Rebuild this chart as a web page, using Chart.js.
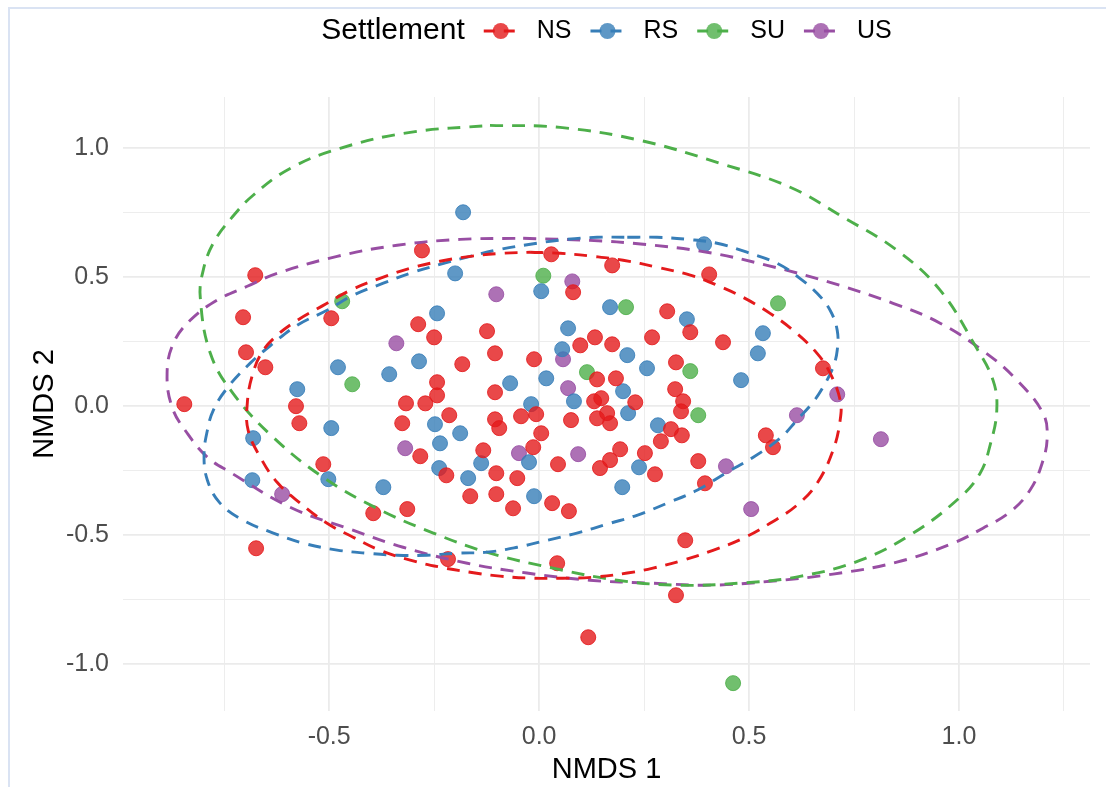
<!DOCTYPE html>
<html>
<head>
<meta charset="utf-8">
<script src="https://cdn.jsdelivr.net/npm/chart.js@4/dist/chart.umd.min.js"></script>
<style>
  html, body { margin: 0; padding: 0; background: #ffffff; }
  canvas { display: block; }
</style>
</head>
<body>
<canvas id="nmds" width="1106" height="787"></canvas>
<script>
// NMDS ordination scores per settlement type, [NMDS1, NMDS2]
const nsPoints = [
  [0.029,0.588],[-0.279,0.603],[-0.676,0.507],[-0.495,0.340],[-0.705,0.344],[-0.288,0.317],
  [-0.250,0.266],[-0.124,0.290],[-0.105,0.204],[-0.698,0.208],[-0.652,0.150],[-0.183,0.162],
  [-0.012,0.181],[-0.105,0.053],[-0.243,0.092],[-0.243,0.041],[-0.317,0.010],[-0.271,0.010],
  [-0.579,-0.001],[-0.571,-0.067],[-0.845,0.007],[-0.326,-0.067],[-0.214,-0.036],[-0.105,-0.052],
  [-0.095,-0.086],[-0.043,-0.040],[-0.007,-0.032],[0.005,-0.106],[-0.283,-0.195],[-0.133,-0.172],
  [-0.014,-0.160],[-0.514,-0.226],[-0.221,-0.269],[-0.102,-0.261],[-0.052,-0.280],[-0.395,-0.416],
  [-0.314,-0.400],[-0.674,-0.552],[-0.217,-0.594],[0.043,-0.610],[0.117,-0.897],[-0.164,-0.350],
  [-0.102,-0.342],[-0.062,-0.397],[0.031,-0.377],[0.071,-0.408],[0.045,-0.226],[0.145,-0.241],
  [0.169,-0.210],[0.193,-0.168],[0.252,-0.183],[0.076,-0.055],[0.138,-0.048],[0.162,-0.028],
  [0.169,-0.067],[0.229,0.014],[0.131,0.018],[0.148,0.030],[0.081,0.441],[0.305,0.367],
  [0.360,0.286],[0.438,0.247],[0.269,0.266],[0.098,0.235],[0.133,0.266],[0.174,0.239],
  [0.326,0.169],[0.138,0.103],[0.183,0.107],[0.324,0.065],[0.343,0.018],[0.338,-0.021],
  [0.314,-0.090],[0.340,-0.114],[0.290,-0.137],[0.379,-0.214],[0.395,-0.300],[0.276,-0.265],
  [0.174,0.545],[0.405,0.510],[0.676,0.146],[0.540,-0.114],[0.557,-0.160],[0.348,-0.521],
  [0.326,-0.734]
];
const rsPoints = [
  [-0.181,0.751],[-0.200,0.514],[0.005,0.445],[-0.243,0.359],[-0.286,0.173],[-0.479,0.150],
  [-0.357,0.123],[-0.069,0.088],[-0.576,0.065],[-0.495,-0.086],[-0.681,-0.125],[-0.248,-0.071],
  [-0.188,-0.106],[-0.019,0.007],[-0.236,-0.145],[-0.138,-0.222],[-0.024,-0.218],[-0.238,-0.241],
  [-0.683,-0.288],[-0.502,-0.284],[-0.169,-0.280],[-0.371,-0.315],[-0.012,-0.350],[0.238,-0.238],
  [0.198,-0.315],[0.212,-0.028],[0.083,0.018],[0.017,0.107],[0.169,0.383],[0.352,0.336],
  [0.069,0.301],[0.055,0.220],[0.210,0.197],[0.257,0.146],[0.200,0.057],[0.481,0.100],
  [0.283,-0.075],[0.393,0.627],[0.533,0.282],[0.521,0.204]
];
const suPoints = [
  [0.010,0.505],[-0.469,0.406],[-0.445,0.084],[0.207,0.383],[0.114,0.131],[0.360,0.135],
  [0.379,-0.036],[0.569,0.398],[0.462,-1.075]
];
const usPoints = [
  [-0.102,0.433],[-0.340,0.243],[0.079,0.483],[0.057,0.181],[0.069,0.069],[-0.319,-0.164],
  [-0.048,-0.183],[0.093,-0.187],[-0.612,-0.342],[0.445,-0.234],[0.505,-0.400],[0.614,-0.036],
  [0.710,0.045],[0.814,-0.129]
];

// Outlines of the 95% confidence ellipses, traced clockwise from the top
const nsEllipse = [
  [-0.021,0.596],[0.050,0.592],[0.129,0.580],[0.200,0.565],[0.281,0.538],[0.360,0.507],
  [0.424,0.468],[0.486,0.421],[0.550,0.359],[0.605,0.293],[0.662,0.204],[0.693,0.127],
  [0.717,0.022],[0.717,-0.055],[0.700,-0.172],[0.662,-0.300],[0.614,-0.385],[0.550,-0.455],
  [0.486,-0.513],[0.414,-0.560],[0.343,-0.598],[0.271,-0.629],[0.210,-0.648],[0.129,-0.664],
  [0.057,-0.668],[-0.014,-0.668],[-0.093,-0.660],[-0.164,-0.645],[-0.236,-0.625],[-0.307,-0.598],
  [-0.379,-0.560],[-0.443,-0.509],[-0.505,-0.455],[-0.569,-0.377],[-0.624,-0.296],[-0.664,-0.199],
  [-0.693,-0.094],[-0.695,0.010],[-0.683,0.119],[-0.660,0.208],[-0.624,0.274],[-0.576,0.332],
  [-0.514,0.390],[-0.450,0.448],[-0.379,0.495],[-0.307,0.534],[-0.236,0.561],[-0.164,0.580],
  [-0.086,0.592],[-0.021,0.596]
];
const rsEllipse = [
  [0.210,0.654],[0.281,0.654],[0.352,0.646],[0.424,0.631],[0.495,0.596],[0.567,0.553],
  [0.621,0.495],[0.662,0.437],[0.693,0.371],[0.710,0.293],[0.710,0.216],[0.700,0.150],
  [0.676,0.072],[0.652,0.014],[0.614,-0.055],[0.574,-0.125],[0.510,-0.199],[0.448,-0.257],
  [0.376,-0.327],[0.305,-0.377],[0.233,-0.424],[0.169,-0.455],[0.090,-0.493],[0.019,-0.521],
  [-0.052,-0.548],[-0.124,-0.567],[-0.195,-0.571],[-0.267,-0.579],[-0.338,-0.579],[-0.410,-0.571],
  [-0.481,-0.559],[-0.562,-0.532],[-0.633,-0.493],[-0.705,-0.443],[-0.760,-0.377],[-0.790,-0.288],
  [-0.798,-0.191],[-0.790,-0.094],[-0.776,-0.017],[-0.743,0.069],[-0.688,0.166],[-0.633,0.243],
  [-0.576,0.313],[-0.505,0.371],[-0.443,0.429],[-0.371,0.476],[-0.300,0.518],[-0.236,0.549],
  [-0.164,0.580],[-0.093,0.607],[-0.005,0.631],[0.067,0.646],[0.138,0.654],[0.210,0.654]
];
const suEllipse = [
  [-0.117,1.088],[0.050,1.080],[0.240,1.030],[0.431,0.941],[0.598,0.848],[0.724,0.732],
  [0.852,0.604],[0.955,0.449],[1.038,0.235],[1.081,0.100],[1.090,-0.017],[1.074,-0.153],
  [1.050,-0.262],[1.002,-0.355],[0.890,-0.494],[0.764,-0.599],[0.621,-0.661],[0.479,-0.687],
  [0.329,-0.695],[0.186,-0.676],[0.033,-0.629],[-0.117,-0.571],[-0.252,-0.493],[-0.386,-0.397],
  [-0.514,-0.277],[-0.633,-0.122],[-0.729,0.049],[-0.783,0.204],[-0.807,0.421],[-0.800,0.526],
  [-0.776,0.631],[-0.731,0.732],[-0.681,0.817],[-0.593,0.921],[-0.474,0.999],[-0.307,1.061],
  [-0.117,1.088]
];
const usEllipse = [
  [-0.038,0.650],[0.121,0.642],[0.248,0.627],[0.400,0.596],[0.543,0.545],[0.693,0.479],
  [0.843,0.398],[0.955,0.321],[1.062,0.208],[1.138,0.100],[1.200,-0.028],[1.210,-0.121],
  [1.198,-0.222],[1.169,-0.327],[1.121,-0.412],[1.057,-0.474],[0.986,-0.532],[0.852,-0.606],
  [0.700,-0.652],[0.550,-0.680],[0.407,-0.695],[0.264,-0.687],[0.121,-0.676],[-0.029,-0.648],
  [-0.171,-0.610],[-0.324,-0.548],[-0.457,-0.474],[-0.593,-0.393],[-0.736,-0.257],[-0.790,-0.199],
  [-0.838,-0.106],[-0.874,-0.005],[-0.886,0.127],[-0.871,0.243],[-0.831,0.332],[-0.767,0.410],
  [-0.695,0.464],[-0.624,0.514],[-0.481,0.580],[-0.338,0.623],[-0.188,0.646],[-0.038,0.650]
];

const groups = ['NS', 'RS', 'SU', 'US'];
const legendTitle = 'Settlement';
const xMajorTicks = [-0.5, 0.0, 0.5, 1.0];
const xMinorTicks = [-0.75, -0.25, 0.25, 0.75, 1.25];
const yMajorTicks = [-1.0, -0.5, 0.0, 0.5, 1.0];
const yMinorTicks = [-0.75, -0.25, 0.25, 0.75];
const xTitle = 'NMDS 1';
const yTitle = 'NMDS 2';

// Set1 palette
const palette = { NS: [228, 26, 28], RS: [55, 126, 184], SU: [77, 175, 74], US: [152, 78, 163] };
const rgba = (c, a) => `rgba(${c[0]},${c[1]},${c[2]},${a})`;
const FONT = '"Liberation Sans", Arial, Helvetica, sans-serif';

const pointSets = { NS: nsPoints, RS: rsPoints, SU: suPoints, US: usPoints };
const ellipseSets = { NS: nsEllipse, RS: rsEllipse, SU: suEllipse, US: usEllipse };
const toXY = arr => arr.map(p => ({ x: p[0], y: p[1] }));

const datasets = [];
groups.forEach(g => {
  datasets.push({
    label: g + ' ellipse',
    data: toXY(ellipseSets[g]),
    showLine: true,
    fill: false,
    tension: 0.4,
    borderColor: rgba(palette[g], 1),
    borderWidth: 2.9,
    borderDash: [13, 9],
    pointRadius: 0,
    order: 0
  });
});
groups.forEach((g, i) => {
  datasets.push({
    label: g,
    data: toXY(pointSets[g]),
    showLine: false,
    backgroundColor: rgba(palette[g], 0.8),
    borderColor: rgba(palette[g], 0.85),
    borderWidth: 1,
    pointRadius: 7.5,
    order: 1 + i
  });
});

const allX = [...xMajorTicks, ...xMinorTicks].sort((a, b) => a - b);
const allY = [...yMajorTicks, ...yMinorTicks].sort((a, b) => a - b);
const isMajor = (list, v) => list.some(t => Math.abs(t - v) < 1e-9);

const PANEL = { left: 123, right: 1090, top: 97, bottom: 711 };

const decorations = {
  id: 'decorations',
  beforeDraw(chart) {
    const ctx = chart.ctx;
    ctx.save();
    ctx.fillStyle = '#ffffff';
    ctx.fillRect(0, 0, chart.width, chart.height);
    // window frame
    ctx.strokeStyle = '#dae3f3';
    ctx.lineWidth = 2;
    ctx.beginPath();
    ctx.moveTo(9, chart.height);
    ctx.lineTo(9, 8);
    ctx.lineTo(chart.width, 8);
    ctx.stroke();
    ctx.restore();
  },
  afterDraw(chart) {
    const ctx = chart.ctx;
    const area = chart.chartArea;
    const cx = (area.left + area.right) / 2;
    ctx.save();
    // axis titles
    ctx.fillStyle = '#000000';
    ctx.font = `29px ${FONT}`;
    ctx.textAlign = 'center';
    ctx.textBaseline = 'middle';
    ctx.fillText(xTitle, cx, 770);
    ctx.save();
    ctx.translate(45, (area.top + area.bottom) / 2);
    ctx.rotate(-Math.PI / 2);
    ctx.fillText(yTitle, 0, 0);
    ctx.restore();

    // legend
    const legendY = 31;
    const gap = 36;
    ctx.font = `30px ${FONT}`;
    const titleW = ctx.measureText(legendTitle).width;
    ctx.font = `25px ${FONT}`;
    const labelW = groups.map(g => ctx.measureText(g).width);
    const total = titleW + labelW.reduce((s, w) => s + w + 2 * gap, 0);
    let x = cx - total / 2;
    ctx.textAlign = 'left';
    ctx.font = `30px ${FONT}`;
    ctx.fillText(legendTitle, x, legendY);
    x += titleW;
    groups.forEach((g, i) => {
      const kx = x + gap;
      ctx.save();
      ctx.strokeStyle = rgba(palette[g], 1);
      ctx.lineWidth = 3;
      ctx.setLineDash([11, 9]);
      ctx.beginPath();
      ctx.moveTo(kx - 17, legendY);
      ctx.lineTo(kx + 17, legendY);
      ctx.stroke();
      ctx.setLineDash([]);
      ctx.fillStyle = rgba(palette[g], 0.8);
      ctx.beginPath();
      ctx.arc(kx, legendY, 8, 0, Math.PI * 2);
      ctx.fill();
      ctx.restore();
      ctx.font = `25px ${FONT}`;
      ctx.fillStyle = '#000000';
      ctx.fillText(g, kx + gap, legendY);
      x = kx + gap + labelW[i];
    });
    ctx.restore();
  }
};

new Chart(document.getElementById('nmds'), {
  type: 'scatter',
  data: { datasets },
  plugins: [decorations],
  options: {
    responsive: false,
    devicePixelRatio: 1,
    animation: false,
    events: [],
    layout: { padding: { left: 0, top: PANEL.top, right: 1106 - PANEL.right, bottom: 0 } },
    plugins: { legend: { display: false }, tooltip: { enabled: false } },
    scales: {
      x: {
        type: 'linear',
        min: -0.991,
        max: 1.312,
        afterBuildTicks(scale) { scale.ticks = allX.map(v => ({ value: v })); },
        afterFit(scale) { scale.height = 787 - PANEL.bottom; },
        grid: {
          color: '#ebebeb',
          lineWidth: c => (isMajor(xMajorTicks, c.tick.value) ? 1.8 : 0.9),
          drawTicks: false
        },
        border: { display: false },
        ticks: {
          padding: 11,
          color: '#4d4d4d',
          font: { family: FONT, size: 25 },
          maxRotation: 0,
          autoSkip: false,
          callback: v => (isMajor(xMajorTicks, v) ? v.toFixed(1) : '')
        }
      },
      y: {
        type: 'linear',
        min: -1.183,
        max: 1.198,
        afterBuildTicks(scale) { scale.ticks = allY.map(v => ({ value: v })); },
        afterFit(scale) { scale.width = PANEL.left; },
        grid: {
          color: '#ebebeb',
          lineWidth: c => (isMajor(yMajorTicks, c.tick.value) ? 1.8 : 0.9),
          drawTicks: false
        },
        border: { display: false },
        ticks: {
          padding: 14,
          color: '#4d4d4d',
          font: { family: FONT, size: 25 },
          autoSkip: false,
          callback: v => (isMajor(yMajorTicks, v) ? v.toFixed(1) : '')
        }
      }
    }
  }
});
</script>
</body>
</html>
